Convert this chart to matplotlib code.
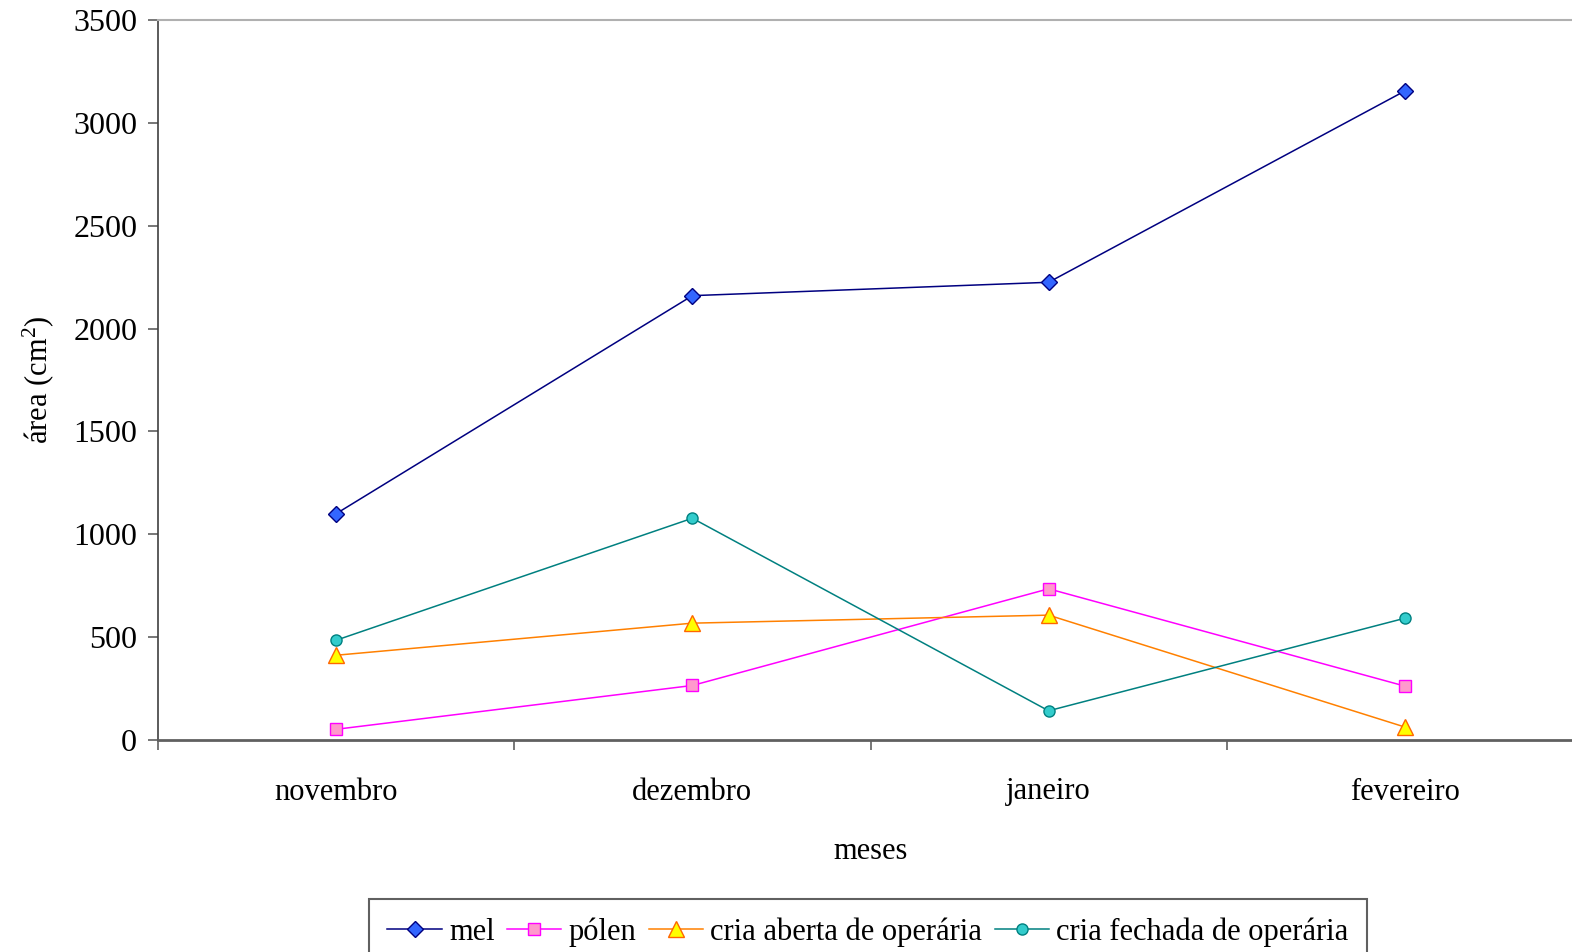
import matplotlib
matplotlib.use('Agg')
import matplotlib.pyplot as plt
import numpy as np

meses = ['novembro', 'dezembro', 'janeiro', 'fevereiro']
mel = [1100, 2160, 2225, 3155]
polen = [52, 265, 735, 262]
cria_aberta = [412, 568, 607, 63]
cria_fechada = [485, 1078, 142, 592]

plt.rcParams.update({
    'font.family': ['Liberation Serif', 'DejaVu Serif'],
    'mathtext.fontset': 'custom',
    'mathtext.rm': 'Liberation Serif',
    'mathtext.it': 'Liberation Serif:italic',
    'font.size': 22,
})

fig = plt.figure(figsize=(15.72, 9.52), dpi=100)
W, H = 1572, 952
left, right, top, bottom = 158, 1583, 20, 740
ax = fig.add_axes([left / W, 1 - bottom / H, (right - left) / W, (bottom - top) / H])

x = np.arange(len(meses))
series = [
    ('mel', mel, '#000080', 'D', '#3366ff', '#000080', 8),
    ('pólen', polen, '#ff00ff', 's', '#ff99cc', '#ff00ff', 9),
    ('cria aberta de operária', cria_aberta, '#ff8000', '^', '#ffff00', '#ff6600', 11),
    ('cria fechada de operária', cria_fechada, '#008080', 'o', '#33cccc', '#008080', 8),
]
for label, vals, color, marker, face, edge, ms in series:
    ax.plot(x, vals, color=color, lw=1.1, marker=marker, markersize=ms,
            markerfacecolor=face, markeredgecolor=edge, markeredgewidth=1.0,
            label=label)

ax.set_xlim(-0.5, 3.5)
ax.set_ylim(0, 3500)
ax.set_yticks(np.arange(0, 3501, 500))
ax.set_yticklabels([str(v) for v in range(0, 3501, 500)], fontsize=23)
ax.set_xticks(x)
ax.set_xticklabels(meses)
ax.set_xticks(np.arange(-0.5, 3.6, 1.0), minor=True)
ax.tick_params(axis='x', which='major', length=0, pad=27)
ax.tick_params(axis='x', which='minor', length=7, width=1.2, color='#606060')
ax.tick_params(axis='y', length=7, width=1.2, color='#606060', pad=8)

ax.spines['left'].set_color('#404040')
ax.spines['left'].set_linewidth(1.2)
ax.spines['bottom'].set_color('#606060')
ax.spines['bottom'].set_linewidth(2.0)
ax.spines['top'].set_color('#b0b0b0')
ax.spines['top'].set_linewidth(1.5)
ax.spines['right'].set_visible(False)

ax.set_xlabel('meses', labelpad=22)
ax.set_ylabel('área (cm$^2$)', labelpad=12)

leg = fig.legend(loc='upper center', bbox_to_anchor=(868 / W, 1 - 899 / H), ncol=4,
                 frameon=True, fancybox=False, edgecolor='#606060', framealpha=1,
                 handlelength=1.77, handletextpad=0.25, columnspacing=0.4,
                 borderpad=0.6, borderaxespad=0, fontsize=22)
leg.get_frame().set_linewidth(1.5)

fig.savefig('out.png', dpi=100)
